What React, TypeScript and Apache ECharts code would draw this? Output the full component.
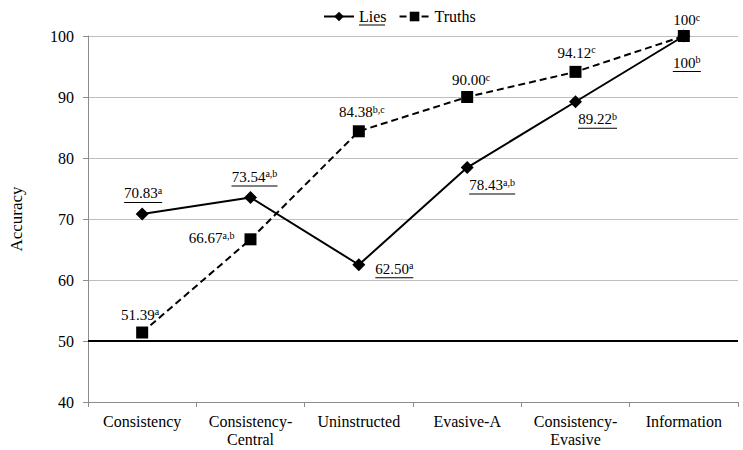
import React, { useEffect, useRef } from "react";
import * as echarts from "echarts";

const categories = [
  "Consistency",
  "Consistency-Central",
  "Uninstructed",
  "Evasive-A",
  "Consistency-Evasive",
  "Information",
];
const liesValues = [70.83, 73.54, 62.5, 78.43, 89.22, 100];
const liesText = ["70.83", "73.54", "62.50", "78.43", "89.22", "100"];
const liesSup = ["a", "a,b", "a", "a,b", "b", "b"];
const truthsValues = [51.39, 66.67, 84.38, 90.0, 94.12, 100];
const truthsText = ["51.39", "66.67", "84.38", "90.00", "94.12", "100"];
const truthsSup = ["a", "a,b", "b,c", "c", "c", "c"];

const LABEL_FONT = "Liberation Serif";
const MAIN_SIZE = 15;
const SUP_SIZE = 10;

const liesPlace: any[] = [
  { position: "top", distance: 4, offset: [1, 0] },
  { position: "top", distance: 4, offset: [4, 0] },
  { position: "right", distance: 10, offset: [0, 5] },
  { position: "bottom", distance: 3, offset: [25, 0] },
  { position: "bottom", distance: 3, offset: [22, 0] },
  { position: "bottom", distance: 12, offset: [3, 0] },
];
const truthsPlace: any[] = [
  { position: "top", distance: 4, offset: [-2, 0] },
  { position: "left", distance: 10, offset: [0, -1] },
  { position: "top", distance: 5, offset: [3, 0] },
  { position: "top", distance: 3, offset: [4, 0] },
  { position: "top", distance: 5, offset: [1, 0] },
  { position: "top", distance: 2, offset: [3, 0] },
];

function measure(text: string, size: number) {
  const c = document.createElement("canvas").getContext("2d");
  if (!c) return text.length * size * 0.5;
  c.font = `${size}px "${LABEL_FONT}"`;
  return c.measureText(text).width;
}

const richBase = {
  v: { fontFamily: LABEL_FONT, fontSize: MAIN_SIZE, color: "#000", lineHeight: 16 },
  s: { fontFamily: LABEL_FONT, fontSize: SUP_SIZE, color: "#000", lineHeight: 8, verticalAlign: "top" },
};

export default function App() {
  const ref = useRef<HTMLDivElement>(null);
  useEffect(() => {
    if (!ref.current) return;
    const chart = echarts.init(ref.current, undefined, { renderer: "svg" });

    const liesData = liesValues.map((v, i) => {
      const w = Math.round(measure(liesText[i], MAIN_SIZE) + measure(liesSup[i], SUP_SIZE));
      const key = "u" + i;
      return {
        value: v,
        label: {
          show: true,
          ...liesPlace[i],
          formatter: `{v|${liesText[i]}}{s|${liesSup[i]}}\n{${key}| }`,
          rich: {
            ...richBase,
            [key]: { width: w, height: 1, lineHeight: 2, backgroundColor: "#000", fontSize: 1 },
          },
        },
      };
    });
    const truthsData = truthsValues.map((v, i) => ({
      value: v,
      label: {
        show: true,
        ...truthsPlace[i],
        formatter: `{v|${truthsText[i]}}{s|${truthsSup[i]}}`,
        rich: richBase,
      },
    }));

    chart.setOption({
      animation: false,
      backgroundColor: "#fff",
      legend: {
        left: 318,
        top: 3,
        itemWidth: 30,
        itemHeight: 12,
        itemGap: 12,
        data: ["Lies", "Truths"],
        formatter: (name: string) =>
          name === "Lies" ? `{t|Lies}\n{u| }` : `{t|Truths}`,
        textStyle: {
          rich: {
            t: { fontFamily: "Liberation Serif", fontSize: 16, color: "#000", lineHeight: 17 },
            u: { width: 26, height: 1, lineHeight: 1, fontSize: 1, backgroundColor: "#000" },
          },
        },
      },
      grid: { left: 83, right: 5, top: 36, bottom: 48, containLabel: false },
      xAxis: {
        type: "category",
        data: categories,
        boundaryGap: true,
        axisLine: { lineStyle: { color: "#8c8c8c", width: 1 } },
        axisTick: { show: true, length: 5, alignWithLabel: false, lineStyle: { color: "#8c8c8c" } },
        axisLabel: {
          interval: 0,
          margin: 10,
          fontFamily: "Liberation Serif",
          fontSize: 16,
          lineHeight: 18,
          color: "#000",
          formatter: (v: string) => v.replace("Consistency-", "Consistency-\n"),
        },
      },
      yAxis: {
        type: "value",
        min: 40,
        max: 100,
        interval: 10,
        name: "Accuracy",
        nameLocation: "middle",
        nameGap: 63,
        nameTextStyle: { fontFamily: "Liberation Serif", fontSize: 17, color: "#000" },
        axisLine: { show: true, lineStyle: { color: "#8c8c8c", width: 1 } },
        axisTick: { show: true, length: 5, lineStyle: { color: "#8c8c8c" } },
        axisLabel: { fontFamily: "Liberation Serif", fontSize: 16, color: "#000", margin: 14 },
        splitLine: { show: true, lineStyle: { color: "#bdbdbd", width: 1 } },
      },
      series: [
        {
          name: "Lies",
          type: "line",
          data: liesData,
          symbol: "diamond",
          symbolSize: 13,
          itemStyle: { color: "#000" },
          lineStyle: { color: "#000", width: 2 },
          markLine: {
            silent: true,
            symbol: "none",
            label: { show: false },
            lineStyle: { color: "#000", width: 2, type: "solid" },
            data: [{ yAxis: 50 }],
          },
          z: 3,
        },
        {
          name: "Truths",
          type: "line",
          data: truthsData,
          symbol: "rect",
          symbolSize: 12,
          itemStyle: { color: "#000" },
          lineStyle: { color: "#000", width: 2, type: [7, 4] },
          z: 4,
        },
      ],
    });
    return () => chart.dispose();
  }, []);
  return (
    <div
      ref={ref}
      style={{ position: "fixed", left: 0, top: 0, width: 743, height: 450, background: "#fff" }}
    />
  );
}
